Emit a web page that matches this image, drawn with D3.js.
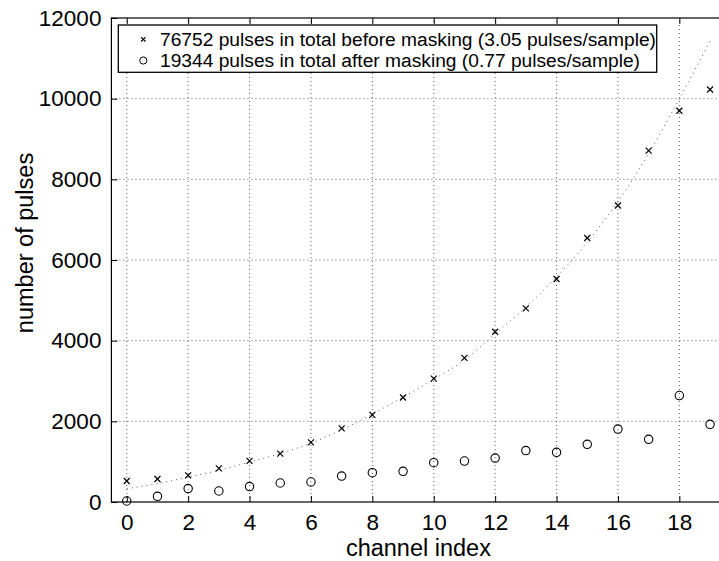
<!DOCTYPE html>
<html>
<head>
<meta charset="utf-8">
<script src="https://cdn.jsdelivr.net/npm/d3@7"></script>
<style>
  html, body { margin: 0; padding: 0; background: #fff; }
  svg { display: block; font-family: 'Liberation Sans', Arial, sans-serif; }
</style>
</head>
<body>
<div id="chart"></div>
<script>
// channel indices
const channels = d3.range(0, 20)
// pulses per channel before masking (x markers)
const before = [520, 570, 662, 835, 1020, 1199, 1479, 1826, 2160, 2590, 3060, 3575, 4220, 4800, 5530, 6545, 7352, 8712, 9700, 10227]
// pulses per channel after masking (o markers)
const after = [25, 141, 332, 273, 382, 471, 496, 644, 728, 761, 976, 1016, 1090, 1274, 1232, 1430, 1809, 1554, 2640, 1925]
// dotted fit curve
const fit = [330, 455, 620, 785, 990, 1200, 1460, 1790, 2180, 2600, 3040, 3520, 4170, 4830, 5580, 6440, 7450, 8640, 10000, 11420]
const xTicks = [0, 2, 4, 6, 8, 10, 12, 14, 16, 18]
const yTicks = [0, 2000, 4000, 6000, 8000, 10000, 12000]
const legendLabels = [
  '76752 pulses in total before masking (3.05 pulses/sample)',
  '19344 pulses in total after masking (0.77 pulses/sample)',
]

const width = 719
const height = 561
const plot = { left: 111.4, right: 725.4, top: 18, bottom: 502 }

const svg = d3.select('#chart').append('svg').attr('width', width).attr('height', height)

const x = d3.scaleLinear().domain([-0.5, 19.5]).range([plot.left, plot.right])
const y = d3.scaleLinear().domain([0, 12000]).range([plot.bottom, plot.top])

// grid
const grid = svg.append('g').attr('stroke', '#333').attr('stroke-width', 0.8).attr('stroke-dasharray', '1,3')
grid
  .selectAll('line.gx')
  .data(xTicks)
  .enter()
  .append('line')
  .attr('x1', (d) => x(d))
  .attr('x2', (d) => x(d))
  .attr('y1', plot.bottom)
  .attr('y2', plot.top)
grid
  .selectAll('line.gy')
  .data(yTicks.filter((d) => d > 0 && d < 12000))
  .enter()
  .append('line')
  .attr('x1', plot.left)
  .attr('x2', plot.right)
  .attr('y1', (d) => y(d))
  .attr('y2', (d) => y(d))

// axes with inward ticks
const tickFont = (g) => g.selectAll('text').attr('font-size', 22.5).attr('fill', '#000').attr('font-family', "'Liberation Sans', Arial, sans-serif")
svg
  .append('g')
  .attr('transform', `translate(0,${plot.bottom})`)
  .call(d3.axisBottom(x).tickValues(xTicks).tickFormat(d3.format('d')).tickSizeInner(-6).tickSizeOuter(0).tickPadding(12))
  .call(tickFont)
  .call((g) => g.select('.domain').remove())
svg
  .append('g')
  .attr('transform', `translate(0,${plot.top})`)
  .call(d3.axisTop(x).tickValues(xTicks).tickSizeInner(-6).tickSizeOuter(0).tickFormat(''))
  .call((g) => g.select('.domain').remove())
svg
  .append('g')
  .attr('transform', `translate(${plot.left},0)`)
  .call(d3.axisLeft(y).tickValues(yTicks).tickFormat(d3.format('d')).tickSizeInner(-6).tickSizeOuter(0).tickPadding(10))
  .call(tickFont)
  .call((g) => g.select('.domain').remove())
svg
  .append('g')
  .attr('transform', `translate(${plot.right},0)`)
  .call(d3.axisRight(y).tickValues(yTicks).tickSizeInner(-6).tickSizeOuter(0).tickFormat(''))
  .call((g) => g.select('.domain').remove())
svg.selectAll('.tick line').attr('stroke', '#000')

svg
  .append('rect')
  .attr('x', plot.left)
  .attr('y', plot.top)
  .attr('width', plot.right - plot.left)
  .attr('height', plot.bottom - plot.top)
  .attr('fill', 'none')
  .attr('stroke', '#000')
  .attr('stroke-width', 1.2)

// fit curve
const line = d3
  .line()
  .curve(d3.curveMonotoneX)
  .x((d, i) => x(channels[i]))
  .y((d) => y(d))
svg
  .append('path')
  .datum(fit)
  .attr('fill', 'none')
  .attr('stroke', '#555')
  .attr('stroke-width', 1)
  .attr('stroke-dasharray', '1,4')
  .attr('d', line)

// markers
const cross = (g, cx, cy, s) => {
  g.append('path')
    .attr('d', `M${cx - s},${cy - s}L${cx + s},${cy + s}M${cx - s},${cy + s}L${cx + s},${cy - s}`)
    .attr('stroke', '#000')
    .attr('stroke-width', 1.2)
    .attr('fill', 'none')
}
const marks = svg.append('g')
before.forEach((d, i) => cross(marks, x(channels[i]), y(d), 3))
marks
  .selectAll('circle')
  .data(after)
  .enter()
  .append('circle')
  .attr('cx', (d, i) => x(channels[i]))
  .attr('cy', (d) => y(d))
  .attr('r', 4.2)
  .attr('fill', 'none')
  .attr('stroke', '#000')
  .attr('stroke-width', 1.1)

// axis labels
svg
  .append('text')
  .attr('x', x(9.5))
  .attr('y', 556)
  .attr('text-anchor', 'middle')
  .attr('font-size', 23.5)
  .text('channel index')
svg
  .append('text')
  .attr('transform', `translate(33,243) rotate(-90)`)
  .attr('text-anchor', 'middle')
  .attr('font-size', 23.5)
  .text('number of pulses')

// legend
const legend = svg.append('g')
legend
  .append('rect')
  .attr('x', 118.3)
  .attr('y', 25)
  .attr('width', 538.4)
  .attr('height', 47.3)
  .attr('fill', '#fff')
  .attr('stroke', '#000')
  .attr('stroke-width', 1.3)
legendLabels.forEach((label, i) => {
  legend
    .append('text')
    .attr('x', 160)
    .attr('y', 45.7 + i * 21)
    .attr('font-size', 19.2)
    .text(label)
})
cross(legend, 143.3, 39.3, 2.2)
legend
  .append('circle')
  .attr('cx', 143.3)
  .attr('cy', 60.5)
  .attr('r', 3.6)
  .attr('fill', 'none')
  .attr('stroke', '#000')
  .attr('stroke-width', 1)
</script>
</body>
</html>
